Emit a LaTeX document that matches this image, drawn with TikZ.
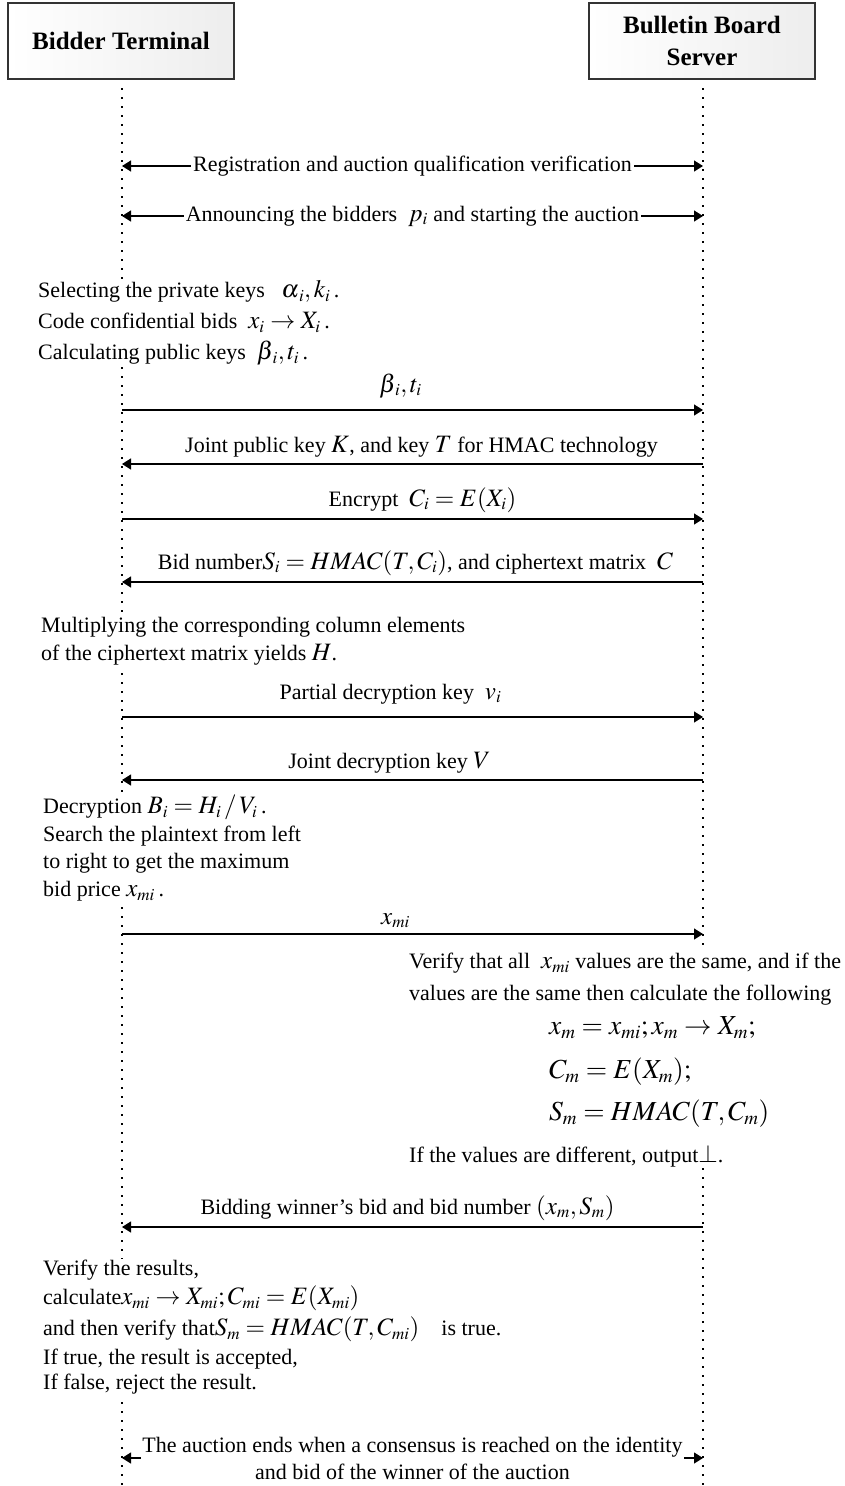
\documentclass[tikz,border=0pt]{standalone}
\usepackage{mathptmx}
\usepackage[no-math]{fontspec}
\setmainfont{Liberation Serif}
\DeclareMathSizes{22}{25}{17}{13}
\DeclareMathSizes{25}{27.5}{19}{15}
\usetikzlibrary{arrows.meta, positioning}
\tikzset{
  actor/.style={rectangle, draw=black!80, line width=1.2pt, left color=white, right color=gray!14, minimum width=226pt, minimum height=76pt, align=center, font=\fontsize{25}{32}\selectfont\bfseries},
  lifeline/.style={line width=1.6pt, dash pattern=on 1.6pt off 7.4pt},
  msg/.style={line width=1.3pt, -{Triangle[length=9pt, width=11pt]}},
  both/.style={line width=1.3pt, {Triangle[length=9pt, width=11pt]}-{Triangle[length=9pt, width=11pt]}},
  lab/.style={font=\fontsize{22}{26}\selectfont, inner sep=1pt, anchor=base},
  note/.style={font=\fontsize{22}{28}\selectfont, align=left, fill=white, inner sep=1pt, anchor=north west}
}

\begin{document}
\begin{tikzpicture}[x=1pt, y=-1pt]
    \useasboundingbox (0,0) rectangle (845,1486);
    % participants
    \node[actor] (bt) at (121,41) {Bidder Terminal};
    \node[actor] (bb) at (702,41) {Bulletin Board\\Server};
    % lifelines
    \coordinate (bttop) at (122,88);
    \coordinate (btend) at (122,1486);
    \coordinate (bbtop) at (703,88);
    \coordinate (bbend) at (703,1486);
    \draw[lifeline] (bttop) -- (btend);
    \draw[lifeline] (bbtop) -- (bbend);
    % message ends
    \coordinate (regl) at (122,166);   \coordinate (regr) at (703,166);
    \coordinate (annl) at (122,216);   \coordinate (annr) at (703,216);
    \coordinate (pkl) at (122,410);    \coordinate (pkr) at (703,410);
    \coordinate (jkl) at (122,464);    \coordinate (jkr) at (703,464);
    \coordinate (encl) at (122,519);   \coordinate (encr) at (703,519);
    \coordinate (bnl) at (122,582);    \coordinate (bnr) at (703,582);
    \coordinate (pdl) at (122,717);    \coordinate (pdr) at (703,717);
    \coordinate (jdl) at (122,780);    \coordinate (jdr) at (703,780);
    \coordinate (xml) at (122,934);    \coordinate (xmr) at (703,934);
    \coordinate (winl) at (122,1227);  \coordinate (winr) at (703,1227);
    \coordinate (endl) at (122,1458);  \coordinate (endr) at (703,1458);

    \draw[both] (regl) -- node[lab, anchor=center, fill=white, inner sep=2pt] {Registration and auction qualification verification} (regr);
    \draw[both] (annl) -- node[lab, anchor=center, fill=white, inner sep=2pt] {Announcing the bidders~ $p_i$ and starting the auction} (annr);

    \node[note, font=\fontsize{22}{31}\selectfont] (sel) at (37,279) {Selecting the private keys~~ $\alpha_{\mkern2mu i},k_i$\,.\\Code confidential bids~ $x_i\rightarrow X_i$\,.\\Calculating public keys~ $\beta_{\mkern2mu i},t_i$\,.};

    \draw[msg] (pkl) -- node[lab, yshift=18pt, xshift=-12pt] {$\beta_{\mkern2mu i},t_i$} (pkr);
    \draw[msg] (jkr) -- node[lab, yshift=12pt, xshift=9pt] {Joint public key $K$, and key $T$ for HMAC technology} (jkl);
    \draw[msg] (encl) -- node[lab, yshift=13pt, xshift=10pt] {Encrypt~ $C_i = E(X_i)$} (encr);
    \draw[msg] (bnr) -- node[lab, yshift=13pt, xshift=3pt] {Bid number$S_i = HMAC(T,C_i)$, and ciphertext matrix~ $C$} (bnl);

    \node[note] (mul) at (40,616) {Multiplying the corresponding column elements\\of the ciphertext matrix yields $H$.};

    \draw[msg] (pdl) -- node[lab, yshift=18pt, xshift=-22pt] {Partial decryption key~ $v_i$} (pdr);
    \draw[msg] (jdr) -- node[lab, yshift=12pt, xshift=-23pt] {Joint decryption key $V$} (jdl);

    \node[note, font=\fontsize{22}{27.5}\selectfont] (dec) at (42,794) {Decryption $B_i = H_i\,/\,V_i$\,.\\Search the plaintext from left\\to right to get the maximum\\bid price $x_{mi}$\,.};

    \draw[msg] (xml) -- node[lab, yshift=10pt, xshift=-17pt] {$x_{mi}$} (xmr);

    \node[note, font=\fontsize{22}{32}\selectfont] (chk) at (408,952) {Verify that all~ $x_{mi}$ values are the same, and if the\\values are the same then calculate the following\\[2pt]
      \hspace*{140pt}{\fontsize{25}{30}\selectfont$x_m = x_{mi}; x_m \rightarrow X_m;$}\\[12pt]
      \hspace*{140pt}{\fontsize{25}{30}\selectfont$C_m = E(X_m);$}\\[10pt]
      \hspace*{140pt}{\fontsize{25}{30}\selectfont$S_m = HMAC(T,C_m)$}\\[10pt]
      If the values are different, output$\perp$.};

    \draw[msg] (winr) -- node[lab, yshift=13pt, xshift=-5pt] {Bidding winner's bid and bid number $(x_m,S_m)$} (winl);

    \node[note, font=\fontsize{22}{26}\selectfont] (res) at (42,1259) {Verify the results,\\[3pt]calculate$x_{mi}\rightarrow X_{mi};C_{mi} = E(X_{mi})$\\[5pt]and then verify that$S_m = HMAC(T,C_{mi})$\quad is true.\\[3pt]If true, the result is accepted,\\[-1pt]If false, reject the result.};

    \draw[both] (endl) -- node[lab, anchor=center, fill=white, align=center, font=\fontsize{22}{27}\selectfont] {The auction ends when a consensus is reached on the identity\\and bid of the winner of the auction} (endr);
\end{tikzpicture}
\end{document}
